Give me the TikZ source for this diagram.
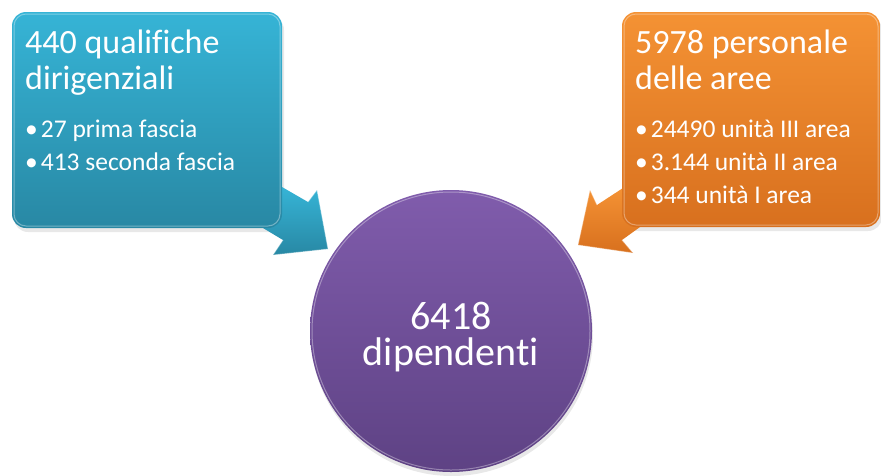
\documentclass[tikz,border=0pt]{standalone}
\usepackage{fontspec}
\setmainfont[Ligatures=NoCommon]{Carlito}
\definecolor{blueT}{RGB}{54,180,214}
\definecolor{blueB}{RGB}{40,136,164}
\definecolor{orangeT}{RGB}{244,146,52}
\definecolor{orangeB}{RGB}{216,112,30}
\definecolor{purpleT}{RGB}{128,92,172}
\definecolor{purpleB}{RGB}{94,66,132}
\newcommand{\bul}{•\hspace{3pt}}
\begin{document}
\begin{tikzpicture}[x=1pt,y=-1pt,
  title/.style={anchor=base west,inner sep=0pt,text=white,font=\fontsize{34}{40}\selectfont},
  item/.style={anchor=base west,inner sep=0pt,text=white,font=\fontsize{25.5}{30}\selectfont},
  ctext/.style={anchor=base,inner sep=0pt,text=white,font=\fontsize{40}{48}\selectfont},
  card/.style={rectangle,rounded corners=14pt,inner sep=0pt,draw=none},
  shadowfill/.style={fill=black,opacity=0.09},
  rim/.style={draw=white,opacity=0.35,line width=1pt}]
\useasboundingbox (0,0) rectangle (881,475);
% shadows
\fill[shadowfill,rounded corners=14pt] (14,16) rectangle (284,232);
\fill[shadowfill,rounded corners=14pt] (624,16) rectangle (882,231);
\fill[shadowfill] (452,335) circle (141);
% left arrow
\coordinate (la1) at (282,187);
\coordinate (la2) at (308,202);
\coordinate (la3) at (317,190);
\coordinate (la4) at (328,249);
\coordinate (la5) at (273,255);
\coordinate (la6) at (283,240);
\coordinate (la7) at (263,228);
\path[top color=blueT,bottom color=blueB] (la1) -- (la2) -- (la3) -- (la4) -- (la5) -- (la6) -- (la7) -- cycle;
\draw[rim] (la2) -- (la3) -- (la4) -- (la5) -- (la6);
% right arrow
\coordinate (ra1) at (623,188);
\coordinate (ra2) at (597,205);
\coordinate (ra3) at (590,190);
\coordinate (ra4) at (578,245);
\coordinate (ra5) at (633,253);
\coordinate (ra6) at (622,240);
\coordinate (ra7) at (640,227);
\path[top color=orangeT,bottom color=orangeB] (ra1) -- (ra2) -- (ra3) -- (ra4) -- (ra5) -- (ra6) -- (ra7) -- cycle;
\draw[rim] (ra2) -- (ra3) -- (ra4) -- (ra5) -- (ra6);
% boxes
\node (lbox) [card,top color=blueT,bottom color=blueB,minimum width=270pt,minimum height=216pt] at (147,120) {};
\draw[rim,rounded corners=12pt] (14,14) rectangle (280,226);
\node (rbox) [card,top color=orangeT,bottom color=orangeB,minimum width=258pt,minimum height=215pt] at (751,119.5) {};
\draw[rim,rounded corners=12pt] (624,14) rectangle (878,225);
% circle
\node (cc) [circle,inner sep=0pt,minimum size=282pt,top color=purpleT,bottom color=purpleB] at (451,331) {};
\draw[rim] (451,331) circle (139);
% left texts
\node (l1) [title] at (25,53) {440 qualifiche};
\node (l2) [title] at (25,89) {dirigenziali};
\node (l3) [item] at (25,137) {\bul 27 prima fascia};
\node (l4) [item] at (25,170) {\bul 413 seconda fascia};
% right texts
\node (r1) [title] at (635,53) {5978 personale};
\node (r2) [title] at (635,89) {delle aree};
\node (r3) [item] at (635,137) {\bul 24490 unità III area};
\node (r4) [item] at (635,170) {\bul 3.144 unità II area};
\node (r5) [item] at (635,203) {\bul 344 unità I area};
% center texts
\node (c1) [ctext] at (451,329) {6418};
\node (c2) [ctext] at (451,365) {dipendenti};
\end{tikzpicture}
\end{document}
